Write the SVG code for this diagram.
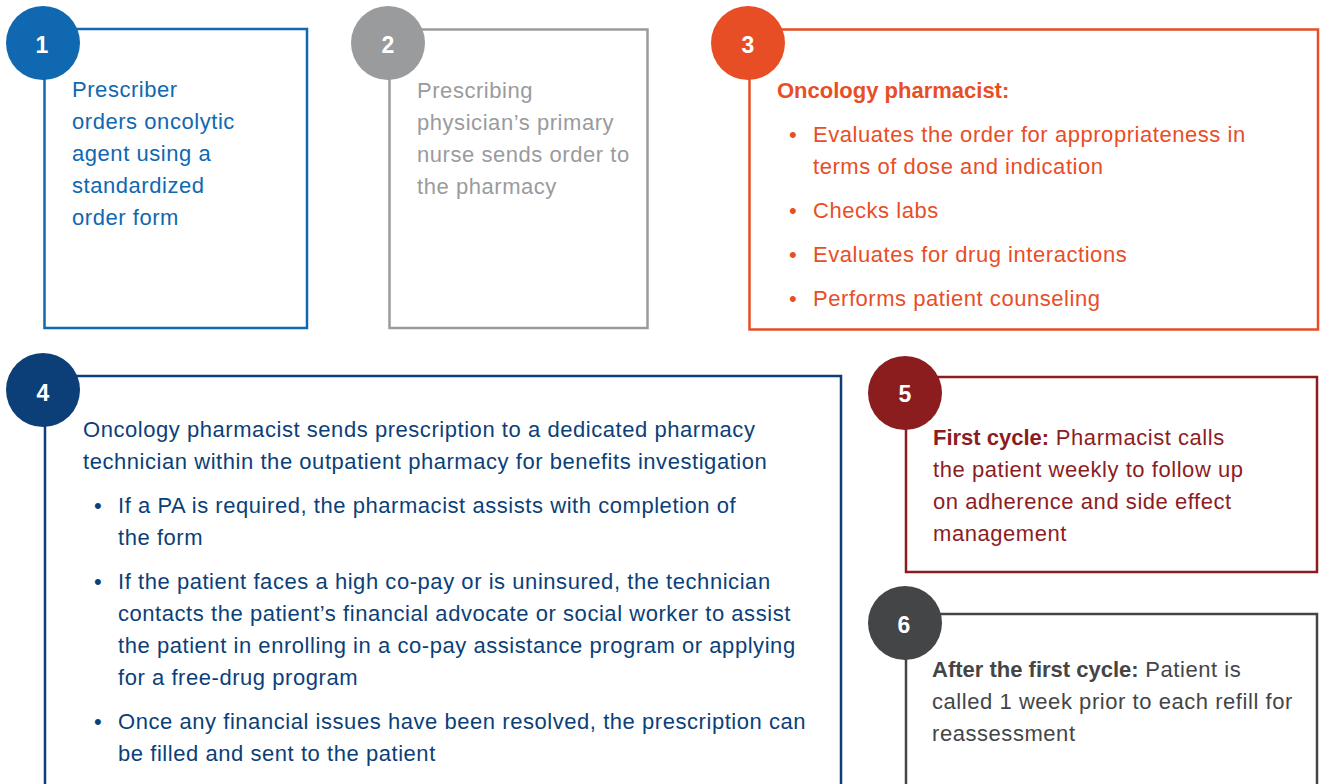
<svg xmlns="http://www.w3.org/2000/svg" width="1320" height="784" viewBox="0 0 1320 784">
<style>
text{font-family:"Liberation Sans",Arial,Helvetica,sans-serif;font-size:22px;letter-spacing:0.55px}
.box{fill:none;stroke-width:2.5}
.num{font-weight:bold;font-size:23px;fill:#fff;text-anchor:middle;letter-spacing:0}
.b{font-weight:bold;letter-spacing:0}
.c1{fill:#1068b0}.s1{stroke:#1068b0}
.c2{fill:#9a9b9d}.s2{stroke:#9a9b9d}
.c3{fill:#e84e26}.s3{stroke:#e84e26}
.c4{fill:#0c3f78}.s4{stroke:#0c3f78}
.c5{fill:#8c1d1f}.s5{stroke:#8c1d1f}
.c6{fill:#444546}.s6{stroke:#444546}
</style>
<rect width="1320" height="784" fill="#fff"/>
<g id="connectors"/>
<g id="node1">
<rect class="box s1" x="44.5" y="29" width="262.5" height="299"/>
<circle class="c1" cx="43" cy="43" r="37"/>
<text class="num" x="42" y="53">1</text>
<g class="c1">
<text x="72" y="97">Prescriber</text>
<text x="72" y="129">orders oncolytic</text>
<text x="72" y="161">agent using a</text>
<text x="72" y="193">standardized</text>
<text x="72" y="225">order form</text>
</g>
</g>
<g id="node2">
<rect class="box s2" x="389.5" y="29.5" width="258" height="298.5"/>
<circle class="c2" cx="388" cy="43" r="37"/>
<text class="num" x="388" y="53">2</text>
<g class="c2">
<text x="417" y="98">Prescribing</text>
<text x="417" y="130">physician’s primary</text>
<text x="417" y="162">nurse sends order to</text>
<text x="417" y="194">the pharmacy</text>
</g>
</g>
<g id="node3">
<rect class="box s3" x="749.5" y="29.5" width="568.5" height="300"/>
<circle class="c3" cx="748" cy="43" r="37"/>
<text class="num" x="748" y="53">3</text>
<g class="c3">
<text class="b" x="777" y="98">Oncology pharmacist:</text>
<text x="789" y="142">•</text><text x="813" y="142">Evaluates the order for appropriateness in</text>
<text x="813" y="174">terms of dose and indication</text>
<text x="789" y="218">•</text><text x="813" y="218">Checks labs</text>
<text x="789" y="262">•</text><text x="813" y="262">Evaluates for drug interactions</text>
<text x="789" y="306">•</text><text x="813" y="306">Performs patient counseling</text>
</g>
</g>
<g id="node4">
<rect class="box s4" x="45" y="376" width="796" height="430"/>
<circle class="c4" cx="43" cy="390" r="37"/>
<text class="num" x="43" y="401">4</text>
<g class="c4">
<text x="83" y="437">Oncology pharmacist sends prescription to a dedicated pharmacy</text>
<text x="83" y="469">technician within the outpatient pharmacy for benefits investigation</text>
<text x="94" y="513">•</text><text x="118" y="513">If a PA is required, the pharmacist assists with completion of</text>
<text x="118" y="545">the form</text>
<text x="94" y="589">•</text><text x="118" y="589">If the patient faces a high co-pay or is uninsured, the technician</text>
<text x="118" y="621">contacts the patient’s financial advocate or social worker to assist</text>
<text x="118" y="653">the patient in enrolling in a co-pay assistance program or applying</text>
<text x="118" y="685">for a free-drug program</text>
<text x="94" y="729">•</text><text x="118" y="729">Once any financial issues have been resolved, the prescription can</text>
<text x="118" y="761">be filled and sent to the patient</text>
</g>
</g>
<g id="node5">
<rect class="box s5" x="906" y="377" width="411" height="195"/>
<circle class="c5" cx="905" cy="393" r="37"/>
<text class="num" x="905" y="402">5</text>
<g class="c5">
<text x="933" y="445"><tspan class="b">First cycle:</tspan> Pharmacist calls</text>
<text x="933" y="477">the patient weekly to follow up</text>
<text x="933" y="509">on adherence and side effect</text>
<text x="933" y="541">management</text>
</g>
</g>
<g id="node6">
<rect class="box s6" x="906" y="614" width="411" height="200"/>
<circle class="c6" cx="905" cy="623" r="37"/>
<text class="num" x="904" y="633">6</text>
<g class="c6">
<text x="932" y="677"><tspan class="b">After the first cycle:</tspan> Patient is</text>
<text x="932" y="709">called 1 week prior to each refill for</text>
<text x="932" y="741">reassessment</text>
</g>
</g>
</svg>
